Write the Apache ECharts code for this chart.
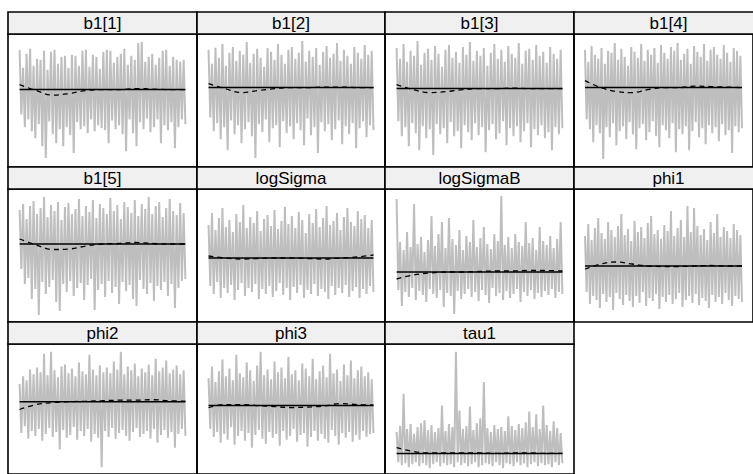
<!DOCTYPE html>
<html><head><meta charset="utf-8">
<script src="https://cdn.jsdelivr.net/npm/echarts@6/dist/echarts.min.js"></script>
<style>html,body{margin:0;padding:0;background:#fff}#c{width:753px;height:474px}</style>
</head><body><div id="c"></div>
<script>
// Panel titles (lattice strips), in table order
const panelNames = ['b1[1]','b1[2]','b1[3]','b1[4]','b1[5]','logSigma','logSigmaB','phi1','phi2','phi3','tau1'];

// Trace envelopes: alternating upper / lower excursions,
// values centred on each parameter's posterior mean (mean = 0), arbitrary units.
const b1_1_hi = [40,22,36,41,24,31,30,39,20,38,40,26,33,34,22,35,34,24,39,40,23,35,33,21,38,40,39,27,33,36,41,25,34,30,47,48,28,33,36,25,32,39,40,24,33,30,28,30];
const b1_1_lo = [-25,-38,-30,-42,-49,-35,-57,-69,-32,-45,-54,-40,-57,-38,-46,-64,-33,-40,-37,-44,-30,-42,-36,-39,-41,-54,-31,-40,-36,-45,-62,-30,-44,-57,-33,-40,-29,-43,-38,-30,-54,-36,-41,-33,-59,-38,-30,-35];
const b1_2_hi = [38,24,40,30,44,22,35,41,27,37,33,46,25,34,39,30,21,40,36,28,44,33,24,38,41,29,35,47,26,37,31,40,23,36,42,30,34,45,27,38,32,24,41,35,29,43,33,37];
const b1_2_lo = [-30,-44,-36,-52,-40,-63,-33,-47,-38,-56,-42,-35,-49,-71,-37,-45,-32,-55,-41,-38,-60,-34,-46,-39,-52,-36,-43,-58,-31,-48,-40,-66,-35,-44,-37,-53,-42,-33,-57,-39,-47,-36,-61,-41,-34,-50,-38,-43];
const b1_3_hi = [41,30,45,27,38,33,48,24,36,40,29,43,35,22,39,44,31,37,26,42,34,47,28,38,33,41,23,36,45,30,39,27,43,35,31,46,25,38,40,29,44,33,37,26,42,35,30,39];
const b1_3_lo = [-33,-48,-39,-58,-35,-45,-62,-38,-50,-41,-67,-36,-46,-40,-55,-34,-48,-43,-60,-37,-44,-52,-35,-47,-39,-64,-42,-36,-51,-45,-33,-57,-40,-48,-38,-54,-43,-35,-59,-41,-47,-37,-50,-44,-62,-39,-46,-40];
const b1_4_hi = [38,26,42,33,29,40,24,37,35,45,28,39,31,22,41,36,30,44,27,38,33,40,25,43,35,29,41,37,45,28,34,39,24,42,36,31,44,27,38,41,33,29,43,35,26,40,37,32];
const b1_4_lo = [-32,-42,-55,-38,-46,-72,-40,-50,-36,-58,-44,-39,-52,-35,-47,-62,-41,-37,-53,-45,-34,-49,-60,-38,-43,-51,-36,-65,-42,-47,-39,-63,-44,-35,-50,-41,-57,-38,-46,-40,-54,-37,-48,-43,-66,-39,-45,-41];
const b1_5_hi = [34,40,25,38,43,30,36,47,27,39,33,42,24,37,41,30,35,45,28,38,32,44,26,40,36,30,46,33,39,25,42,37,31,44,28,40,35,47,30,38,42,27,36,45,33,29,41,31];
const b1_5_lo = [-25,-40,-34,-55,-45,-71,-38,-50,-43,-36,-58,-67,-40,-48,-37,-52,-44,-39,-56,-41,-35,-66,-46,-40,-53,-37,-49,-43,-60,-38,-47,-41,-55,-62,-36,-45,-50,-39,-57,-42,-46,-38,-52,-40,-64,-44,-37,-35];
const logSigma_hi = [33,45,28,40,50,31,38,26,44,36,53,30,41,35,47,27,39,43,32,48,29,37,51,34,42,30,46,38,25,44,35,49,31,40,52,33,37,45,28,41,50,36,32,47,39,43,30,38];
const logSigma_lo = [-28,-36,-24,-40,-30,-35,-27,-42,-32,-25,-38,-30,-34,-26,-41,-31,-36,-28,-39,-33,-25,-37,-30,-42,-29,-35,-27,-40,-32,-36,-26,-38,-31,-34,-41,-28,-37,-30,-35,-27,-39,-33,-29,-40,-31,-36,-28,-34];
const logSigmaB_hi = [73,30,22,40,25,68,28,35,20,32,56,26,38,50,24,54,33,27,42,22,36,30,52,25,34,45,28,23,38,31,76,27,35,24,38,30,26,50,29,34,22,45,31,27,36,24,33,50];
const logSigmaB_lo = [-18,-34,-20,-25,-16,-28,-19,-23,-30,-17,-22,-26,-18,-35,-21,-24,-42,-19,-27,-22,-17,-25,-20,-29,-18,-23,-31,-16,-24,-21,-28,-19,-26,-22,-17,-30,-20,-24,-18,-27,-21,-25,-19,-23,-17,-26,-20,-22];
const phi1_hi = [30,42,26,38,48,33,27,44,36,29,40,52,31,37,25,45,34,39,28,43,50,32,36,27,41,35,55,30,38,46,29,60,34,58,40,31,37,26,44,33,52,29,39,35,28,42,36,31];
const phi1_lo = [-26,-38,-30,-34,-42,-28,-36,-31,-44,-27,-33,-39,-29,-35,-41,-30,-37,-26,-40,-32,-35,-28,-43,-31,-36,-29,-38,-33,-27,-41,-34,-30,-37,-28,-39,-32,-35,-42,-29,-36,-31,-38,-27,-34,-40,-30,-33,-36];
const phi2_hi = [18,26,22,33,28,35,30,49,27,51,32,25,36,38,29,34,26,40,31,28,48,33,27,37,30,35,29,41,33,51,28,36,32,39,26,34,30,38,27,44,31,35,42,29,33,37,28,32];
const phi2_lo = [-32,-25,-38,-30,-35,-28,-40,-33,-27,-36,-31,-49,-29,-37,-34,-26,-39,-30,-35,-28,-41,-33,-37,-67,-30,-36,-27,-38,-32,-29,-35,-40,-31,-27,-36,-33,-30,-38,-28,-42,-34,-29,-37,-31,-47,-33,-28,-35];
const phi3_hi = [28,40,24,35,47,30,38,26,52,33,29,44,36,25,41,55,31,37,27,45,34,39,28,50,32,36,26,43,38,30,48,27,35,41,29,53,33,37,25,42,31,46,28,36,40,30,34,27];
const phi3_lo = [-24,-32,-27,-38,-29,-35,-22,-40,-31,-26,-36,-28,-43,-30,-25,-34,-39,-27,-33,-29,-41,-26,-35,-31,-24,-37,-30,-28,-42,-32,-26,-36,-29,-34,-38,-25,-31,-40,-28,-33,-27,-37,-30,-35,-26,-32,-29,-28];
const tau1_hi = [22,28,61,25,30,20,27,31,34,24,29,22,26,49,23,30,27,104,44,25,28,48,24,31,36,73,26,22,29,25,27,23,38,28,24,30,26,32,43,27,40,25,49,29,23,33,26,21];
const tau1_lo = [-9,-12,-10,-14,-11,-9,-13,-10,-12,-15,-11,-9,-13,-10,-12,-11,-14,-9,-12,-10,-13,-11,-9,-14,-12,-10,-11,-13,-9,-12,-15,-10,-11,-13,-9,-12,-10,-14,-11,-9,-13,-10,-12,-11,-14,-9,-12,-10];

// Running-mean (dashed) curves, 11 evenly spaced checkpoints along the chain
const b1_1_run = [5,-1,-5.5,-4,-1,0,0,1,0.5,0,0];
const b1_2_run = [4,-1,-5,-3,-1,0,0,0.5,0.5,0,0];
const b1_3_run = [4,-1,-4,-3,-1,0,0,0.5,0,0,0];
const b1_4_run = [7,0,-4,-5,-2,0,0,1.5,1,0.5,0];
const b1_5_run = [5,-1,-5.5,-5,-2,0,0.5,1.5,0.5,0,0];
const logSigma_run = [2,0,-1,-0.5,0,0,-0.5,-1,0,1,3];
const logSigmaB_run = [-7,-3,-1,0,0,0.5,1,1,1.5,1.5,1];
const phi1_run = [-3,2,4,2,0,-0.5,-0.5,0,0.5,0,0];
const phi2_run = [-8,-3,-1,0,0.5,1,1.5,1.5,2,1,0.5];
const phi3_run = [-2,1,1,0,-1,-2,-1.5,-0.5,2,1,0.5];
const tau1_run = [6,2,0.5,0.5,0.5,0.5,0,0.5,0.5,0,0];

// Per-panel value-axis limits (same units)
const yMin = [-78,-80,-79,-80,-78,-64,-50,-56,-74,-70,-21];
const yMax = [56,54,55,54,55,69,83,77,59,63,112];

const his = [b1_1_hi,b1_2_hi,b1_3_hi,b1_4_hi,b1_5_hi,logSigma_hi,logSigmaB_hi,phi1_hi,phi2_hi,phi3_hi,tau1_hi];
const los = [b1_1_lo,b1_2_lo,b1_3_lo,b1_4_lo,b1_5_lo,logSigma_lo,logSigmaB_lo,phi1_lo,phi2_lo,phi3_lo,tau1_lo];
const runs = [b1_1_run,b1_2_run,b1_3_run,b1_4_run,b1_5_run,logSigma_run,logSigmaB_run,phi1_run,phi2_run,phi3_run,tau1_run];

// Layout
const colX = [8, 197, 385, 574, 763];
const rowY = [12, 167, 322, 477];
const stripH = 22;
const FONT = '17px "Liberation Sans", Arial, Helvetica, sans-serif';

const grid = [], xAxis = [], yAxis = [], series = [], graphic = [];
panelNames.forEach((name, i) => {
  const r = Math.floor(i / 4), c = i % 4;
  const L = colX[c], R = colX[c + 1], T = rowY[r], B = rowY[r + 1];
  const n = Math.min(his[i].length, los[i].length);
  const last = 2 * n - 1;
  grid.push({left: L, top: T + stripH, width: R - L, height: B - T - stripH,
    show: true, borderColor: '#000', borderWidth: 1.6, backgroundColor: 'transparent'});
  xAxis.push({gridIndex: i, type: 'value', min: -0.07 * last, max: 1.07 * last, show: false});
  yAxis.push({gridIndex: i, type: 'value', min: yMin[i], max: yMax[i], show: false});
  const trace = [];
  for (let k = 0; k < n; k++) {
    trace.push([2 * k, his[i][k]]);
    trace.push([2 * k + 1, los[i][k]]);
  }
  series.push({type: 'line', xAxisIndex: i, yAxisIndex: i, data: trace, symbol: 'none',
    lineStyle: {color: '#bebebe', width: 2}, silent: true, z: 1});
  series.push({type: 'line', xAxisIndex: i, yAxisIndex: i, data: [[0, 0], [last, 0]], symbol: 'none',
    lineStyle: {color: '#000', width: 1.5}, silent: true, z: 3});
  const rp = runs[i].map((v, k) => [k * last / (runs[i].length - 1), v]);
  series.push({type: 'line', xAxisIndex: i, yAxisIndex: i, data: rp, symbol: 'none', smooth: 0.4,
    lineStyle: {color: '#000', width: 1.3, type: [5, 4]}, silent: true, z: 4});
  graphic.push({type: 'rect', shape: {x: L, y: T, width: R - L, height: stripH},
    style: {fill: '#f0f0f0', stroke: '#000', lineWidth: 1.6}, z: 10, silent: true});
  graphic.push({type: 'text', x: (L + R) / 2, y: T + stripH / 2 + 0.5, z: 11, silent: true,
    style: {text: name, font: FONT, fill: '#000', align: 'center', verticalAlign: 'middle',
      textAlign: 'center', textVerticalAlign: 'middle'}});
});

const chart = echarts.init(document.getElementById('c'), null, {renderer: 'svg'});
chart.setOption({animation: false, backgroundColor: '#fff', grid, xAxis, yAxis, series, graphic});
</script></body></html>
